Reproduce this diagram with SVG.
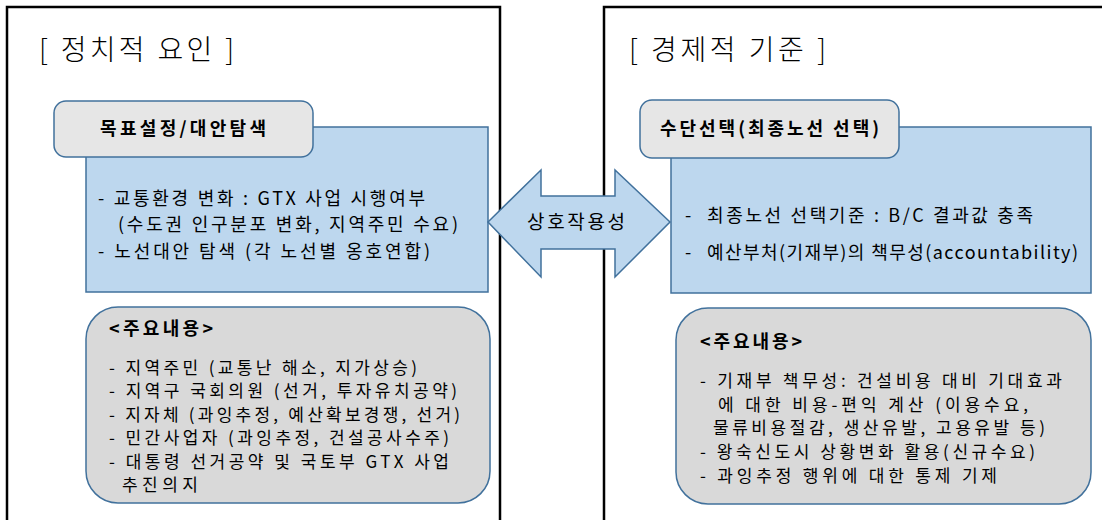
<svg xmlns="http://www.w3.org/2000/svg" width="1102" height="520" viewBox="0 0 1102 520">
<style>
text{font-family:"Malgun Gothic","Noto Sans CJK KR","Noto Sans",sans-serif;fill:#000}
.frame{fill:#fff;stroke:#000;stroke-width:2.5}
.title{font-size:28px;font-weight:300}
.hdr{fill:#E6E6E6;stroke:#41719C;stroke-width:1.5}
.hdrt{font-size:18px;font-weight:700}
.blue{fill:#BDD7EE;stroke:#41719C;stroke-width:1.5}
.gray{fill:#D9D9D9;stroke:#41719C;stroke-width:1.5}
.t{font-size:18px}
.g{font-size:17px}
.b{font-size:18px;font-weight:700}
</style>
<rect width="1102" height="520" fill="#fff"/>
<g id="political">
<rect class="frame" x="7" y="7" width="493" height="600"/>
<text class="title" x="39" y="60" textLength="195">[ 정치적 요인 ]</text>
</g>
<g id="economic">
<rect class="frame" x="604" y="7" width="600" height="600"/>
<text class="title" x="629" y="60" textLength="197">[ 경제적 기준 ]</text>
</g>
<g id="left-blue">
<rect class="blue" x="86" y="127" width="402" height="165"/>
<text class="t" x="98" y="205" textLength="327">- 교통환경 변화 : GTX 사업 시행여부</text>
<text class="t" x="118" y="231" textLength="340">(수도권 인구분포 변화, 지역주민 수요)</text>
<text class="t" x="98" y="258" textLength="332">- 노선대안 탐색 (각 노선별 옹호연합)</text>
</g>
<g id="left-header">
<rect class="hdr" x="54" y="101" width="259" height="56" rx="12"/>
<text class="hdrt" x="100" y="135" textLength="166">목표설정/대안탐색</text>
</g>
<g id="left-gray">
<rect class="gray" x="86" y="307" width="404" height="196" rx="32"/>
<text class="b" x="109" y="335" textLength="104">&lt;주요내용&gt;</text>
<text class="g" x="109" y="374" textLength="308">- 지역주민 (교통난 해소, 지가상승)</text>
<text class="g" x="109" y="397" textLength="348">- 지역구 국회의원 (선거, 투자유치공약)</text>
<text class="g" x="109" y="421" textLength="351">- 지자체 (과잉추정, 예산확보경쟁, 선거)</text>
<text class="g" x="109" y="444" textLength="340">- 민간사업자 (과잉추정, 건설공사수주)</text>
<text class="g" x="109" y="468" textLength="340">- 대통령 선거공약 및 국토부 GTX 사업</text>
<text class="g" x="122" y="491" textLength="76">추진의지</text>
</g>
<g id="right-blue">
<rect class="blue" x="671" y="127" width="420" height="166"/>
<text class="t" x="685" y="222">-</text>
<text class="t" x="707" y="222" textLength="326">최종노선 선택기준 : B/C 결과값 충족</text>
<text class="t" x="685" y="259">-</text>
<text class="t" x="707" y="259" textLength="371">예산부처(기재부)의 책무성(accountability)</text>
</g>
<g id="right-header">
<rect class="hdr" x="640" y="100" width="259" height="58" rx="12"/>
<text class="hdrt" x="660" y="135" textLength="219">수단선택(최종노선 선택)</text>
</g>
<g id="right-gray">
<rect class="gray" x="676" y="308" width="415" height="196" rx="32"/>
<text class="b" x="700" y="348" textLength="102">&lt;주요내용&gt;</text>
<text class="g" x="700" y="387" textLength="362">- 기재부 책무성: 건설비용 대비 기대효과</text>
<text class="g" x="718" y="411" textLength="310">에 대한 비용-편익 계산 (이용수요,</text>
<text class="g" x="713" y="434" textLength="332">물류비용절감, 생산유발, 고용유발 등)</text>
<text class="g" x="700" y="458" textLength="335">- 왕숙신도시 상황변화 활용(신규수요)</text>
<text class="g" x="700" y="482" textLength="297">- 과잉추정 행위에 대한 통제 기제</text>
</g>
<g id="connectors">
<polygon points="488,222 541,170 541,196 615,196 615,170 670,222 615,277 615,249 541,249 541,277" fill="#BDD7EE" stroke="#41719C" stroke-width="1.5"/>
<text x="527" y="229" style="font-size:19px" textLength="98">상호작용성</text>
</g>
</svg>
